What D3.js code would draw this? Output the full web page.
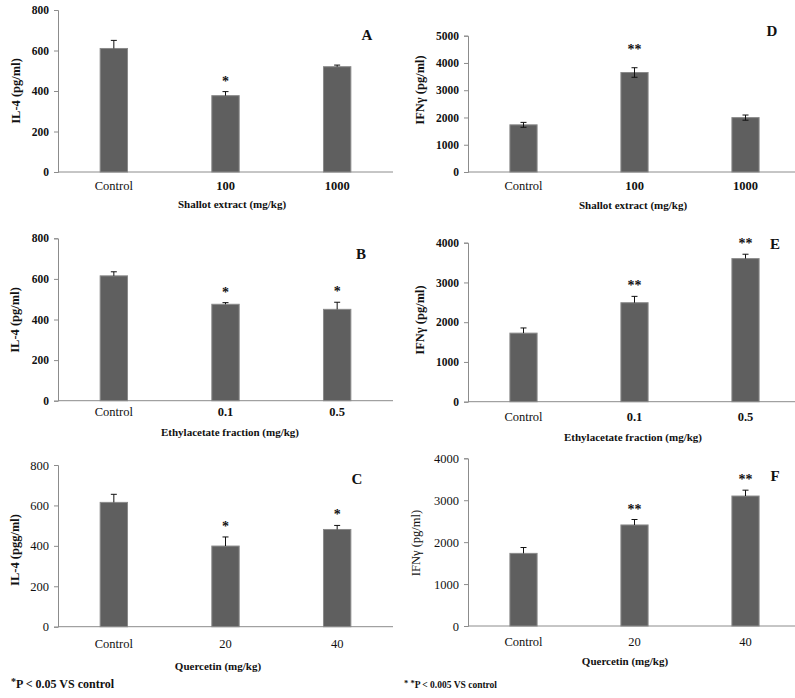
<!DOCTYPE html>
<html>
<head>
<meta charset="utf-8">
<script src="https://cdn.jsdelivr.net/npm/d3@7"></script>
<style>
  body { margin: 0; background: #fff; }
  text { font-family: "Liberation Serif", "Times New Roman", serif; fill: #111; }
</style>
</head>
<body>
<div id="chart"></div>
<script>
// Data per panel
const groupsA = ['Control', '100', '1000'];
const il4Shallot = [610, 377, 520];
const il4ShallotErr = [40, 20, 8];
const sigA = ['', '*', ''];

const groupsD = ['Control', '100', '1000'];
const ifnShallot = [1730, 3650, 1995];
const ifnShallotErr = [90, 175, 95];
const sigD = ['', '**', ''];

const groupsB = ['Control', '0.1', '0.5'];
const il4Ethyl = [615, 475, 450];
const il4EthylErr = [20, 8, 35];
const sigB = ['', '*', '*'];

const groupsE = ['Control', '0.1', '0.5'];
const ifnEthyl = [1725, 2490, 3600];
const ifnEthylErr = [130, 160, 110];
const sigE = ['', '**', '**'];

const groupsC = ['Control', '20', '40'];
const il4Quercetin = [615, 399, 481];
const il4QuercetinErr = [40, 45, 20];
const sigC = ['', '*', '*'];

const groupsF = ['Control', '20', '40'];
const ifnQuercetin = [1732, 2410, 3100];
const ifnQuercetinErr = [140, 130, 140];
const sigF = ['', '**', '**'];

const il4Ticks = [0, 200, 400, 600, 800];
const ifnTicksD = [0, 1000, 2000, 3000, 4000, 5000];
const ifnTicks = [0, 1000, 2000, 3000, 4000];

const W = 795, H = 698;
const svg = d3.select('#chart').append('svg')
    .attr('width', W)
    .attr('height', H);

const panels = [
  { cats: groupsA, vals: il4Shallot, errs: il4ShallotErr, sig: sigA, ticks: il4Ticks,
    x0: 58, x1: 393, yTop: 10, yBot: 172, letter: 'A', lx: 367, ly: 40,
    ytitle: 'IL-4 (pg/ml)', ytx: 20, yty: 91, xtitle: 'Shallot extract (mg/kg)', xtx: 232, xty: 208,
    xlabY: 190, boldTicks: true, boldCats: true, both: false, boldY: true },
  { cats: groupsD, vals: ifnShallot, errs: ifnShallotErr, sig: sigD, ticks: ifnTicksD,
    x0: 468, x1: 801, yTop: 35.7, yBot: 172, letter: 'D', lx: 772, ly: 36,
    ytitle: 'IFNγ (pg/ml)', ytx: 424, yty: 90, xtitle: 'Shallot extract (mg/kg)', xtx: 633, xty: 209,
    xlabY: 190, boldTicks: true, boldCats: true, both: true, boldY: true },
  { cats: groupsB, vals: il4Ethyl, errs: il4EthylErr, sig: sigB, ticks: il4Ticks,
    x0: 58, x1: 393, yTop: 238.3, yBot: 400.7, letter: 'B', lx: 361, ly: 259,
    ytitle: 'IL-4 (pg/ml)', ytx: 19, yty: 320, xtitle: 'Ethylacetate fraction (mg/kg)', xtx: 230, xty: 436,
    xlabY: 416, boldTicks: true, boldCats: true, both: false, boldY: true },
  { cats: groupsE, vals: ifnEthyl, errs: ifnEthylErr, sig: sigE, ticks: ifnTicks,
    x0: 468, x1: 801, yTop: 242.7, yBot: 401.7, letter: 'E', lx: 775, ly: 249,
    ytitle: 'IFNγ (pg/ml)', ytx: 424, yty: 320, xtitle: 'Ethylacetate fraction (mg/kg)', xtx: 633, xty: 441,
    xlabY: 421, boldTicks: true, boldCats: true, both: false, boldY: true },
  { cats: groupsC, vals: il4Quercetin, errs: il4QuercetinErr, sig: sigC, ticks: il4Ticks,
    x0: 58, x1: 393, yTop: 465, yBot: 626.7, letter: 'C', lx: 357, ly: 484,
    ytitle: 'IL-4 (pgg/ml)', ytx: 19, yty: 550, xtitle: 'Quercetin (mg/kg)', xtx: 218, xty: 670,
    xlabY: 648, boldTicks: false, boldCats: false, both: false, boldY: true },
  { cats: groupsF, vals: ifnQuercetin, errs: ifnQuercetinErr, sig: sigF, ticks: ifnTicks,
    x0: 468, x1: 801, yTop: 458.3, yBot: 626, letter: 'F', lx: 775, ly: 481,
    ytitle: 'IFNγ (pg/ml)', ytx: 420, yty: 543, xtitle: 'Quercetin (mg/kg)', xtx: 625, xty: 665,
    xlabY: 646, boldTicks: false, boldCats: false, both: false, boldY: false }
];

panels.forEach(p => {
  const g = svg.append('g');
  const rows = p.cats.map((c, i) => ({ cat: c, val: p.vals[i], err: p.errs[i], sig: p.sig[i] }));

  const x = d3.scaleBand()
      .domain(p.cats)
      .range([p.x0, p.x1])
      .paddingInner(0.755)
      .paddingOuter(0.3775);

  const y = d3.scaleLinear()
      .domain([0, d3.max(p.ticks)])
      .range([p.yBot, p.yTop]);

  // y axis
  const yAx = g.append('g')
      .attr('transform', `translate(${p.x0},0)`)
      .call(d3.axisLeft(y).tickValues(p.ticks).tickSize(4).tickPadding(5).tickFormat(d3.format('d')));
  yAx.select('.domain').attr('stroke', '#8c8c8c');
  yAx.selectAll('.tick line').attr('stroke', '#8c8c8c');
  yAx.selectAll('.tick text')
      .attr('font-size', p.boldTicks ? 11.5 : 12.5)
      .attr('font-weight', p.boldTicks ? 'bold' : 'normal')
      .attr('font-family', '"Liberation Serif", serif')
      .attr('fill', '#111');

  // x axis line
  g.append('line')
      .attr('x1', p.x0).attr('x2', p.x1)
      .attr('y1', p.yBot).attr('y2', p.yBot)
      .attr('stroke', '#8c8c8c');

  // bars
  g.selectAll('.bar')
      .data(rows)
      .enter().append('rect')
      .attr('class', 'bar')
      .attr('x', d => x(d.cat))
      .attr('y', d => y(d.val))
      .attr('width', x.bandwidth())
      .attr('height', d => y(0) - y(d.val))
      .attr('fill', '#5f5f5f')
      .attr('stroke', '#8a8a8a')
      .attr('stroke-width', 1);

  // error bars
  const cx = d => x(d.cat) + x.bandwidth() / 2;
  g.selectAll('.err')
      .data(rows)
      .enter().append('line')
      .attr('x1', cx).attr('x2', cx)
      .attr('y1', d => y(p.both ? d.val - d.err : d.val))
      .attr('y2', d => y(d.val + d.err))
      .attr('stroke', '#111').attr('stroke-width', 1);
  g.selectAll('.capTop')
      .data(rows)
      .enter().append('line')
      .attr('x1', d => cx(d) - 3).attr('x2', d => cx(d) + 3)
      .attr('y1', d => y(d.val + d.err)).attr('y2', d => y(d.val + d.err))
      .attr('stroke', '#111').attr('stroke-width', 1);
  if (p.both) {
    g.selectAll('.capBot')
        .data(rows)
        .enter().append('line')
        .attr('x1', d => cx(d) - 3).attr('x2', d => cx(d) + 3)
        .attr('y1', d => y(d.val - d.err)).attr('y2', d => y(d.val - d.err))
        .attr('stroke', '#111').attr('stroke-width', 1);
  }

  // significance stars
  g.selectAll('.sig')
      .data(rows.filter(d => d.sig))
      .enter().append('text')
      .attr('x', cx)
      .attr('y', d => y(d.val + d.err) - (p.both ? 14 : 6))
      .attr('text-anchor', 'middle')
      .attr('font-size', 14)
      .attr('font-weight', 'bold')
      .text(d => d.sig);

  // category labels
  g.selectAll('.cat')
      .data(rows)
      .enter().append('text')
      .attr('x', cx)
      .attr('y', p.xlabY)
      .attr('text-anchor', 'middle')
      .attr('font-size', 12.5)
      .attr('font-weight', (d, i) => (i > 0 && p.boldCats) ? 'bold' : 'normal')
      .text(d => d.cat);

  // axis titles
  g.append('text')
      .attr('transform', `translate(${p.ytx},${p.yty}) rotate(-90)`)
      .attr('text-anchor', 'middle')
      .attr('font-size', 12.5)
      .attr('font-weight', p.boldY ? 'bold' : 'normal')
      .text(p.ytitle);
  g.append('text')
      .attr('x', p.xtx)
      .attr('y', p.xty)
      .attr('text-anchor', 'middle')
      .attr('font-size', 11)
      .attr('font-weight', 'bold')
      .text(p.xtitle);

  // panel letter
  g.append('text')
      .attr('x', p.lx)
      .attr('y', p.ly)
      .attr('text-anchor', 'middle')
      .attr('font-size', 15)
      .attr('font-weight', 'bold')
      .text(p.letter);
});

// footnotes
svg.append('text')
    .attr('x', 11).attr('y', 688)
    .attr('font-size', 12).attr('font-weight', 'bold')
    .html('<tspan font-size="10" dy="-3">*</tspan><tspan dy="3">P &lt; 0.05 VS control</tspan>');
svg.append('text')
    .attr('x', 404).attr('y', 688)
    .attr('font-size', 9.5).attr('font-weight', 'bold')
    .html('<tspan font-size="8.5" dy="-2">* *</tspan><tspan dy="2">P &lt; 0.005 VS control</tspan>');
</script>
</body>
</html>
